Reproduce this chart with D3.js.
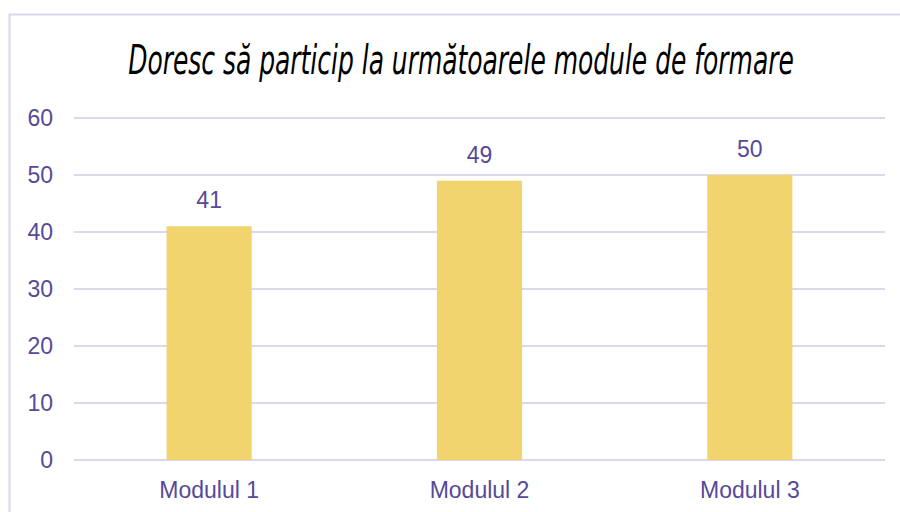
<!DOCTYPE html>
<html>
<head>
<meta charset="utf-8">
<script src="https://cdn.jsdelivr.net/npm/d3@7"></script>
<style>
  body { margin: 0; background: #fff; }
  text { font-family: "Liberation Sans", Arial, sans-serif; }
</style>
</head>
<body>
<div id="chart"></div>
<script>
const categories = ["Modulul 1", "Modulul 2", "Modulul 3"]
const values = [41, 49, 50]
const yTicks = [0, 10, 20, 30, 40, 50, 60]
const title = "Doresc să particip la următoarele module de formare"

const width = 900, height = 512
const textColor = "#564a98"
const gridColor = "#dcd8ec"
const fontSize = 23

const svg = d3.select("#chart")
    .append("svg")
    .attr("width", width)
    .attr("height", height)

// chart frame (right/bottom edges run off the picture)
svg.append("rect")
    .attr("x", 9.5)
    .attr("y", 14.5)
    .attr("width", 1000)
    .attr("height", 1000)
    .attr("fill", "none")
    .attr("stroke", gridColor)
    .attr("stroke-width", 2)

// condensed italic title: measure, then squeeze horizontally to the reference width
var titleG = svg.append("g")
var titleText = titleG.append("text")
    .attr("x", 0)
    .attr("y", 0)
    .attr("text-anchor", "middle")
    .attr("font-size", 40)
    .attr("font-style", "italic")
    .attr("fill", "#000")
    .style("font-family", "'Liberation Sans Narrow', 'DejaVu Sans Condensed', sans-serif")
    .text(title)
var natural = titleText.node().getComputedTextLength()
titleG.attr("transform", "translate(461,74) scale(" + (666 / natural) + ",1)")

var xScale = d3.scaleBand()
    .domain(categories)
    .range([74, 885])
    .padding(0)

var yScale = d3.scaleLinear()
    .domain([0, 60])
    .range([460, 118])

// gridlines
svg.append("g")
    .selectAll("line")
    .data(yTicks)
    .enter()
    .append("line")
    .attr("x1", 74)
    .attr("x2", 885)
    .attr("y1", d => yScale(d))
    .attr("y2", d => yScale(d))
    .attr("stroke", gridColor)
    .attr("stroke-width", 2)

svg.append("g")
    .attr("transform", "translate(53,0)")
    .call(d3.axisLeft(yScale).tickValues(yTicks).tickSize(0).tickPadding(0))
    .call(g => g.select(".domain").remove())
    .call(g => g.attr("font-size", null).attr("font-family", null))
    .call(g => g.selectAll("text")
        .style("font-size", fontSize + "px")
        .attr("fill", textColor))

var barW = xScale.bandwidth() * 0.315

svg.append("g")
    .selectAll("rect")
    .data(values)
    .enter()
    .append("rect")
    .attr("x", (d, i) => xScale(categories[i]) + xScale.bandwidth() / 2 - barW / 2)
    .attr("y", d => yScale(d))
    .attr("width", barW)
    .attr("height", d => yScale(0) - yScale(d))
    .attr("fill", "#f2d46e")

svg.append("g")
    .selectAll("text")
    .data(values)
    .enter()
    .append("text")
    .attr("x", (d, i) => xScale(categories[i]) + xScale.bandwidth() / 2)
    .attr("y", d => yScale(d) - 18)
    .attr("text-anchor", "middle")
    .style("font-size", fontSize + "px")
    .attr("fill", textColor)
    .text(d => d)

svg.append("g")
    .attr("transform", "translate(0,460)")
    .call(d3.axisBottom(xScale).tickSize(0).tickPadding(0))
    .call(g => g.select(".domain").remove())
    .call(g => g.attr("font-size", null).attr("font-family", null))
    .call(g => g.selectAll("text")
        .attr("dy", null)
        .attr("y", 38)
        .style("font-size", fontSize + "px")
        .attr("fill", textColor))
</script>
</body>
</html>
